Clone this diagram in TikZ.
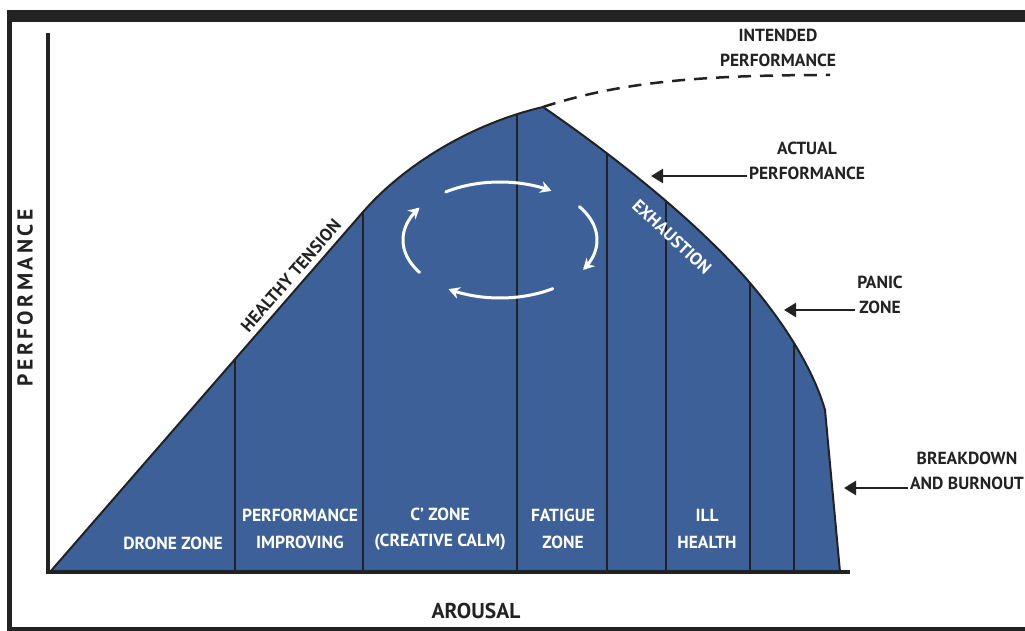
\documentclass[tikz,border=0pt]{standalone}
\usepackage{fontspec}
\setmainfont{PT Sans}
\usetikzlibrary{arrows.meta}
\definecolor{zoneblue}{RGB}{61,96,153}
\definecolor{ink}{RGB}{34,34,34}
\begin{document}
\begin{tikzpicture}[x=1pt,y=-1pt,
  lab/.style={text=ink, align=center, inner sep=2pt, font=\bfseries\fontsize{17.5}{25}\selectfont},
  zonelab/.style={text=white, align=center, inner sep=0pt, font=\bfseries\fontsize{17.5}{26.5}\selectfont},
  axlab/.style={text=ink, inner sep=0pt, font=\bfseries\fontsize{21.5}{25}\selectfont},
  ptr/.style={draw=ink, line width=2.5pt, -{Triangle[length=12pt,width=14pt]}},
  cyc/.style={draw=white, line width=3pt, line cap=round, -{Stealth[length=11pt,width=12pt]}},
  divider/.style={draw=ink, line width=1.8pt},
  axisline/.style={draw=ink, line width=4.5pt},
  outline/.style={draw=ink, line width=2pt, line join=round},
  intended/.style={draw=ink, line width=2.5pt, dash pattern=on 13pt off 9pt}
]
\def\humpoutline{(50,572) -- (363,212) .. controls (403,166) and (470,124) .. (543,107)
  .. controls (620,160) and (700,225) .. (750,283)
  .. controls (790,330) and (815,375) .. (825,410) -- (840,572)}
\useasboundingbox (0,0) rectangle (1025,631);
% frame
\fill[ink] (7,10) rectangle (1025,22);
\fill[ink] (7,10) rectangle (12,631);
\fill[ink] (7,627) rectangle (1025,631);
% hump
\fill[zoneblue] \humpoutline -- cycle;
\begin{scope}
  \clip \humpoutline -- cycle;
  \foreach \xx in {235,363,517,607,666,750,794}
    \draw[divider] (\xx,90) -- (\xx,580);
\end{scope}
\draw[outline] \humpoutline;
% named points
\coordinate (origin) at (50,572);
\coordinate (knee) at (363,212);
\coordinate (peak) at (543,107);
\coordinate (dashend) at (830,75);
\coordinate (actTip) at (651,176);
\coordinate (panicTip) at (784,310);
\coordinate (breakTip) at (844,488);
% intended performance
\draw[intended] (peak) .. controls (620,82) and (700,75) .. (dashend);
% axes
\coordinate (ytop) at (48,33);
\coordinate (ybot) at (48,574.25);
\coordinate (xleft) at (45.75,572);
\coordinate (xright) at (850,572);
\draw[axisline] (ytop) -- (ybot);
\draw[axisline] (xleft) -- (xright);
% cycle arrows
\draw[cyc] plot[domain=-124:-58, samples=40, variable=\t] ({500+97*cos(\t)},{240+58*sin(\t)});
\draw[cyc] plot[domain=-35:31, samples=40, variable=\t] ({500+97*cos(\t)},{240+58*sin(\t)});
\draw[cyc] plot[domain=57:122, samples=40, variable=\t] ({500+97*cos(\t)},{240+58*sin(\t)});
\draw[cyc] plot[domain=146:214, samples=40, variable=\t] ({500+97*cos(\t)},{240+58*sin(\t)});
% sloped labels
\path (origin) -- (knee) node[pos=0.80, above=5pt, sloped, lab, inner sep=1pt] (healthy) {HEALTHY TENSION};
\node[lab, text=white, rotate=-43] (exhaustion) at (672,237) {EXHAUSTION};
% zone labels
\node[zonelab] (drone) at (173,543) {DRONE ZONE};
\node[zonelab] (improving) at (300,529) {PERFORMANCE\\IMPROVING};
\node[zonelab] (czone) at (440,529) {C’ ZONE\\(CREATIVE CALM)};
\node[zonelab] (fatigue) at (563,529) {FATIGUE\\ZONE};
\node[zonelab] (ill) at (707,529) {ILL\\HEALTH};
% right labels
\node[lab] (intendedlab) at (778,48) {INTENDED\\PERFORMANCE};
\node[lab] (actual) at (807,161) {ACTUAL\\PERFORMANCE};
\node[lab] (panic) at (880,295) {PANIC\\ZONE};
\node[lab] (breakdown) at (967,471) {BREAKDOWN\\AND BURNOUT};
\draw[ptr] (actual.west |- actTip) -- (actTip);
\draw[ptr] (panic.west |- panicTip) -- (panicTip);
\draw[ptr] (breakdown.west |- breakTip) -- (breakTip);
% axis labels
\node[axlab, rotate=90] (ylab) at (25,298) {\addfontfeature{LetterSpace=16}PERFORMANCE};
\node[axlab] (xlab) at (476,611) {AROUSAL};
\end{tikzpicture}
\end{document}
